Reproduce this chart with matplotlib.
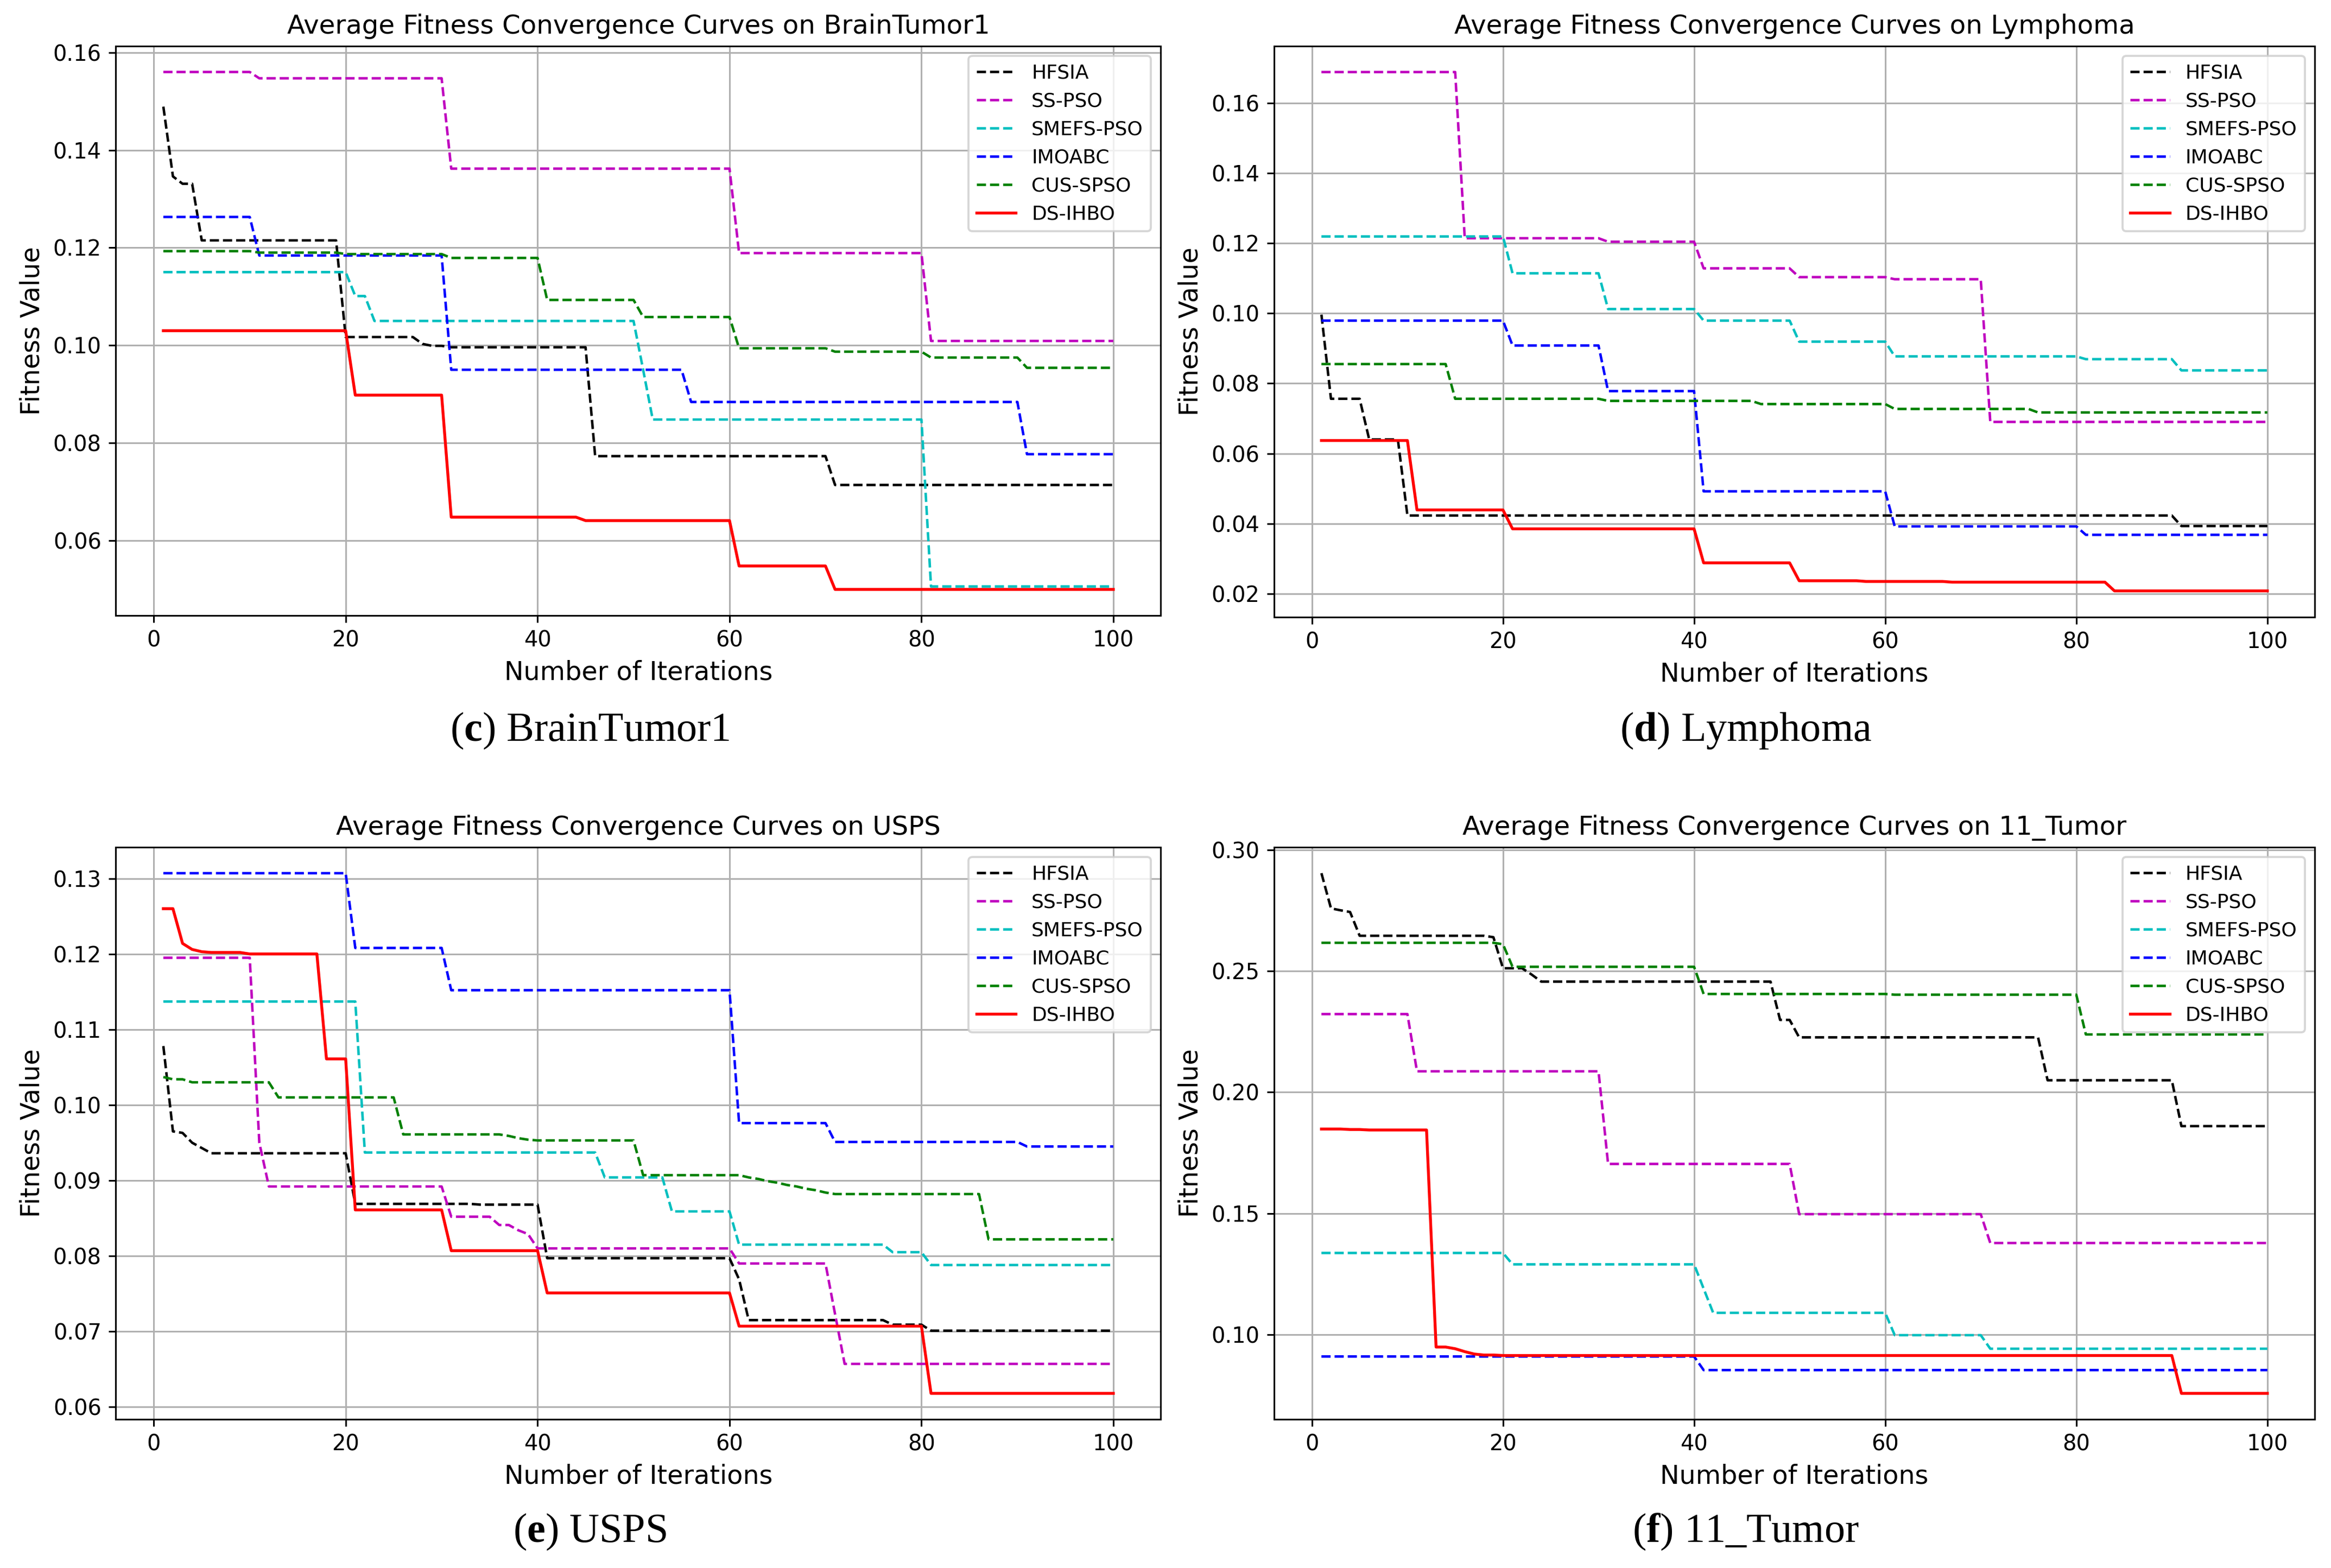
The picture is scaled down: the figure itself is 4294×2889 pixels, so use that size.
import matplotlib
matplotlib.use("Agg")
import matplotlib.pyplot as plt
import numpy as np

# iterations shown on the x axis
iterations = list(range(1, 101))

methods = ['HFSIA', 'SS-PSO', 'SMEFS-PSO', 'IMOABC', 'CUS-SPSO', 'DS-IHBO']
colors = ['k', 'm', 'c', 'b', 'g', 'r']

# Each curve is stored as (iteration where a new level starts, fitness value)
# BrainTumor1
brain_hfsia = [(1, 0.1489), (2, 0.1346), (3, 0.1331), (5, 0.1215), (20, 0.1017), (28, 0.1003),
               (29, 0.0999), (31, 0.0996), (46, 0.0773), (71, 0.0714)]
brain_sspso = [(1, 0.1560), (11, 0.1547), (31, 0.1362), (61, 0.1189), (81, 0.1009)]
brain_smefs = [(1, 0.1150), (21, 0.1101), (23, 0.1050), (51, 0.0950), (52, 0.0848), (81, 0.0506)]
brain_imoabc = [(1, 0.1263), (11, 0.1184), (31, 0.0950), (56, 0.0884), (91, 0.0777)]
brain_cusspso = [(1, 0.1193), (11, 0.1190), (20, 0.1187), (31, 0.1179), (41, 0.1093), (51, 0.1058),
                 (61, 0.0994), (71, 0.0987), (81, 0.0975), (91, 0.0954)]
brain_dsihbo = [(1, 0.1030), (21, 0.0898), (31, 0.0648), (45, 0.0641), (61, 0.0548), (71, 0.0500)]

# Lymphoma
lymph_hfsia = [(1, 0.0996), (2, 0.0756), (6, 0.0640), (10, 0.0423), (91, 0.0393)]
lymph_sspso = [(1, 0.1688), (16, 0.1214), (31, 0.1204), (41, 0.1128), (51, 0.1103), (61, 0.1097),
               (71, 0.0690)]
lymph_smefs = [(1, 0.1219), (21, 0.1114), (31, 0.1012), (41, 0.0979), (51, 0.0919), (61, 0.0877),
               (81, 0.0869), (91, 0.0837)]
lymph_imoabc = [(1, 0.0979), (21, 0.0908), (31, 0.0778), (41, 0.0492), (61, 0.0392), (81, 0.0368)]
lymph_cusspso = [(1, 0.0855), (15, 0.0756), (31, 0.0750), (47, 0.0741), (61, 0.0727), (76, 0.0717)]
lymph_dsihbo = [(1, 0.0637), (11, 0.0439), (21, 0.0385), (41, 0.0288), (51, 0.0237), (58, 0.0235),
                (67, 0.0233), (84, 0.0208)]

# USPS
usps_hfsia = [(1, 0.1078), (2, 0.0965), (3, 0.0963), (4, 0.0950), (5, 0.0943), (6, 0.0936),
              (21, 0.0869), (34, 0.0868), (41, 0.0797), (61, 0.0769), (62, 0.0715), (77, 0.0709),
              (81, 0.0701)]
usps_sspso = [(1, 0.1195), (11, 0.0950), (12, 0.0892), (31, 0.0852), (36, 0.0841), (38, 0.0834),
              (39, 0.0829), (40, 0.0810), (61, 0.0790), (71, 0.0723), (72, 0.0657)]
usps_smefs = [(1, 0.1137), (22, 0.0937), (47, 0.0904), (54, 0.0859), (61, 0.0815), (77, 0.0805),
              (81, 0.0788)]
usps_imoabc = [(1, 0.1307), (21, 0.1208), (31, 0.1152), (61, 0.0976), (71, 0.0951), (91, 0.0945)]
usps_cusspso = [(1, 0.1037), (2, 0.1034), (4, 0.1030), (13, 0.1010), (26, 0.0961), (37, 0.0959),
                (38, 0.0956), (39, 0.0954), (40, 0.0953), (51, 0.0907), (62, 0.0904), (63, 0.0902),
                (64, 0.0899), (65, 0.0897), (66, 0.0894), (67, 0.0892), (68, 0.0889), (69, 0.0887),
                (70, 0.0884), (71, 0.0882), (87, 0.0822)]
usps_dsihbo = [(1, 0.1260), (3, 0.1214), (4, 0.1206), (5, 0.1203), (6, 0.1202), (10, 0.1200),
               (18, 0.1061), (21, 0.0861), (31, 0.0807), (41, 0.0751), (61, 0.0707), (81, 0.0618)]

# 11_Tumor
tumor_hfsia = [(1, 0.2903), (2, 0.2758), (3, 0.2750), (4, 0.2743), (5, 0.2645), (19, 0.2639),
               (20, 0.2511), (23, 0.2485), (24, 0.2456), (49, 0.2298), (51, 0.2226), (77, 0.2049),
               (91, 0.1860)]
tumor_sspso = [(1, 0.2322), (11, 0.2086), (31, 0.1704), (51, 0.1497), (71, 0.1378)]
tumor_smefs = [(1, 0.1337), (21, 0.1290), (41, 0.1190), (42, 0.1090), (61, 0.0998), (71, 0.0942)]
tumor_imoabc = [(1, 0.0910), (41, 0.0854)]
tumor_cusspso = [(1, 0.2616), (20, 0.2610), (21, 0.2517), (41, 0.2405), (61, 0.2402), (81, 0.2238)]
tumor_dsihbo = [(1, 0.1848), (4, 0.1846), (6, 0.1844), (13, 0.0949), (15, 0.0942), (16, 0.0930),
                (17, 0.0920), (18, 0.0916), (20, 0.0914), (91, 0.0758)]

datasets = ['BrainTumor1', 'Lymphoma', 'USPS', '11_Tumor']
panel_letters = ['c', 'd', 'e', 'f']
curves = [
    [brain_hfsia, brain_sspso, brain_smefs, brain_imoabc, brain_cusspso, brain_dsihbo],
    [lymph_hfsia, lymph_sspso, lymph_smefs, lymph_imoabc, lymph_cusspso, lymph_dsihbo],
    [usps_hfsia, usps_sspso, usps_smefs, usps_imoabc, usps_cusspso, usps_dsihbo],
    [tumor_hfsia, tumor_sspso, tumor_smefs, tumor_imoabc, tumor_cusspso, tumor_dsihbo],
]


def expand_levels(levels):
    """Hold each level until the next change point, one value per iteration."""
    values = []
    for it in iterations:
        current = levels[0][1]
        for start, val in levels:
            if start <= it:
                current = val
        values.append(current)
    return values


def main():
    plt.rcParams['mathtext.fontset'] = 'custom'
    plt.rcParams['mathtext.rm'] = 'Liberation Serif'
    plt.rcParams['mathtext.bf'] = 'Liberation Serif:bold'

    fig = plt.figure(figsize=(4294 / 274, 2889 / 274), dpi=274)

    # axes rectangles [left, bottom, width, height]
    rects = [
        [0.0497, 0.6076, 0.4483, 0.3630],
        [0.5466, 0.6066, 0.4464, 0.3640],
        [0.0497, 0.0948, 0.4483, 0.3649],
        [0.5466, 0.0948, 0.4464, 0.3649],
    ]
    caption_pos = [(0.253, 0.534), (0.749, 0.534), (0.253, 0.023), (0.749, 0.023)]

    for k, name in enumerate(datasets):
        ax = fig.add_axes(rects[k])
        for j, method in enumerate(methods):
            y = expand_levels(curves[k][j])
            if method == 'DS-IHBO':
                ax.plot(iterations, y, color=colors[j], linestyle='-', linewidth=1.4, label=method)
            else:
                ax.plot(iterations, y, color=colors[j], linestyle='--', linewidth=1.2, label=method)
        ax.set_title(f'Average Fitness Convergence Curves on {name}', fontsize=12.7)
        ax.set_xlabel('Number of Iterations', fontsize=12.5)
        ax.set_ylabel('Fitness Value', fontsize=12.5)
        ax.tick_params(labelsize=10.5)
        ax.grid(True)
        ax.legend(loc='upper right', fontsize=9.5)

        cx, cy = caption_pos[k]
        fig.text(cx, cy, r'($\mathbf{' + panel_letters[k] + r'}$) ' + name,
                 ha='center', va='center', fontsize=20, family='Liberation Serif')

    plt.savefig('out.png', dpi=274)


if __name__ == "__main__":
    main()
